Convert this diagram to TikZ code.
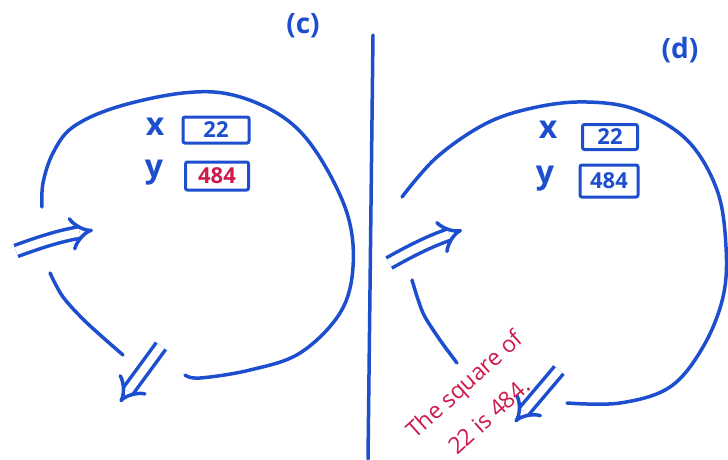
\documentclass[tikz,border=0pt]{standalone}
\usepackage{fontspec}
\setmainfont{Open Sans}
\usepackage{xcolor}
\usepackage{tikz}
\usetikzlibrary{arrows.meta,positioning}

\definecolor{inkblue}{RGB}{28,78,205}
\definecolor{inkred}{RGB}{205,25,75}

\begin{document}
\begin{tikzpicture}[
    x=1pt, y=-1pt,
    sketch/.style={draw=inkblue, line width=3.5pt, line cap=round, line join=round},
    dbl/.style={sketch, line cap=butt, double=white, double distance=8pt, -{Implies[scale=1.4]}},
    valbox/.style={rectangle, draw=inkblue, line width=3pt, rounded corners=2pt, inner sep=0pt, font=\fontsize{22}{22}\selectfont\bfseries},
    varname/.style={text=inkblue, font=\fontsize{32}{32}\selectfont\bfseries},
    panel/.style={text=inkblue, font=\fontsize{28}{28}\selectfont\bfseries},
    note/.style={rotate=42, text=inkred, inner sep=0pt, font=\fontsize{23}{23}\selectfont}
  ]
    \useasboundingbox (0,0) rectangle (728,459);

    % divider
    \coordinate (divtop) at (373,35);
    \coordinate (divbot) at (368,459);
    \draw[sketch] (divtop) -- (divbot);

    % panel (c)
    \node[panel] (labc) at (303,26) {(c)};
    \draw[sketch] plot[smooth, tension=0.6] coordinates {(42,207) (43,183) (53,153) (73,127) (117,107) (183,93) (233,95) (283,117) (317,153) (347,213) (353,267) (340,313) (300,353) (250,370) (200,378) (185,375)};
    \draw[sketch] plot[smooth] coordinates {(50,273) (63,297) (87,323) (123,355)};
    \node[varname] (xc) at (155,127) {x};
    \node[valbox, minimum width=66pt, minimum height=26pt, text=inkblue] (xbc) at (216,130) {22};
    \node[varname] (yc) at (154,173) {y};
    \node[valbox, minimum width=63pt, minimum height=28pt, text=inkred] (ybc) at (217,176) {484};
    \coordinate (inc0) at (16,251);
    \coordinate (inc1) at (93,230);
    \coordinate (outc0) at (161,346);
    \coordinate (outc1) at (120,402);
    \draw[dbl] (inc0) to[bend left=5] (inc1);
    \draw[dbl] (outc0) -- (outc1);

    % panel (d)
    \node[panel] (labd) at (680,50) {(d)};
    \draw[sketch] plot[smooth, tension=0.6] coordinates {(402,197) (437,157) (487,123) (537,107) (587,102) (637,110) (687,140) (717,190) (726,247) (723,297) (703,347) (670,387) (620,403) (567,403)};
    \draw[sketch] plot[smooth] coordinates {(412,280) (423,313) (440,340) (457,363)};
    \node[varname] (xd) at (548,130) {x};
    \node[valbox, minimum width=55pt, minimum height=25pt, text=inkblue] (xbd) at (610,137) {22};
    \node[varname] (yd) at (545,179) {y};
    \node[valbox, minimum width=58pt, minimum height=32pt, text=inkblue] (ybd) at (609,181) {484};
    \coordinate (ind0) at (389,263);
    \coordinate (ind1) at (462,230);
    \coordinate (outd0) at (559,370);
    \coordinate (outd1) at (515,422);
    \draw[dbl] (ind0) to[bend left=5] (ind1);
    \draw[dbl] (outd0) -- (outd1);

    % output note
    \node[note] (note1) at (466,386) {The square of};
    \node[note] (note2) at (489,416) {22 is 484.};
  \end{tikzpicture}
\end{document}
